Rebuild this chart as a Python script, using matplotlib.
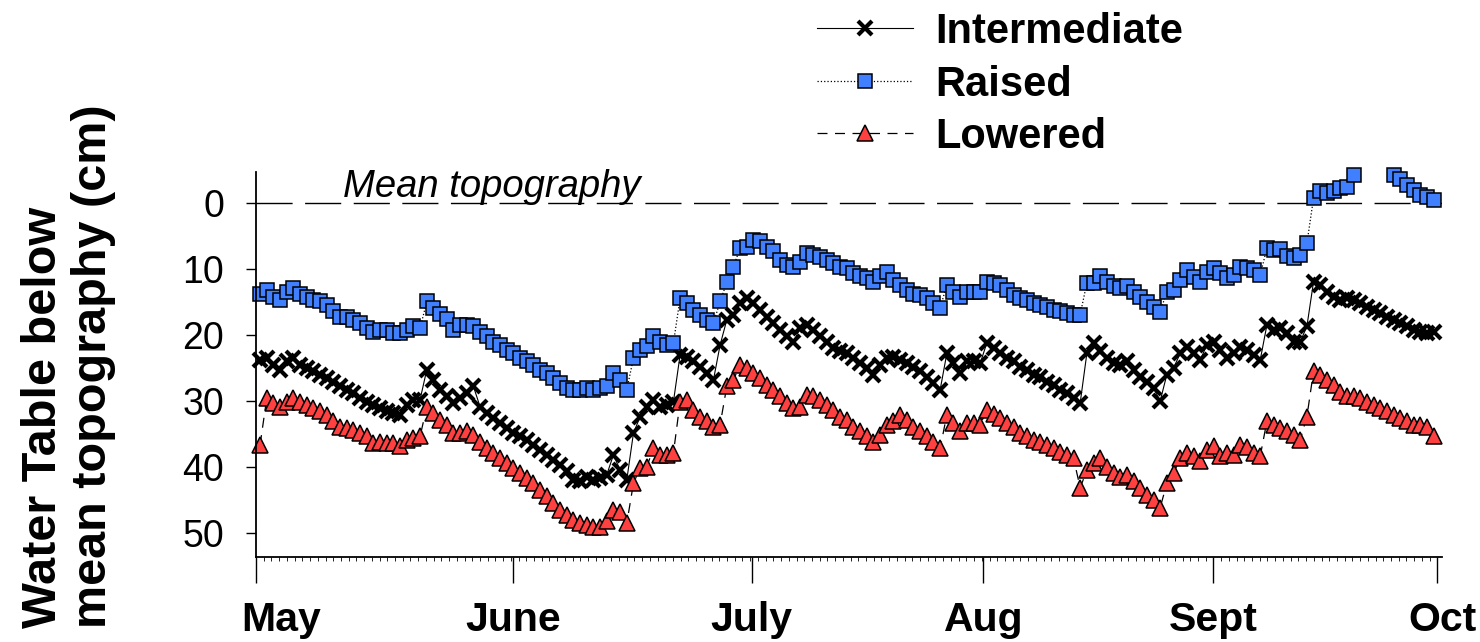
import matplotlib
matplotlib.use("Agg")
import matplotlib.pyplot as plt
import matplotlib.transforms as mtransforms
import numpy as np

plt.rcParams['font.family'] = ['Liberation Sans', 'DejaVu Sans']

nan = np.nan

# water table below mean topography (cm), one reading per sample
intermediate = [
    23.8, 23.5, 24.5, 25.3, 24.0, 23.5, 24.5, 25.0, 25.5, 26.0,
    26.6, 27.1, 27.8, 28.3, 28.8, 29.6, 30.1, 30.6, 31.1, 31.6,
    31.9, 32.1, 30.6, 29.8, 29.8, 25.3, 26.8, 28.3, 29.3, 30.3,
    29.6, 28.8, 27.8, 30.9, 31.9, 32.6, 33.4, 34.1, 34.9, 35.4,
    35.9, 36.7, 37.4, 38.2, 38.9, 39.7, 40.7, 42.0, 42.2, 41.5,
    42.0, 41.7, 41.2, 38.2, 40.5, 42.0, 34.9, 32.4, 30.9, 29.8,
    30.9, 30.6, 30.1, 23.0, 23.3, 24.0, 24.8, 25.8, 26.8, 21.5,
    17.7, 16.9, 15.2, 14.4, 15.2, 16.2, 17.2, 18.2, 19.2, 20.2,
    21.0, 19.0, 18.5, 19.2, 20.2, 21.0, 22.0, 22.5, 22.8, 23.5,
    24.3, 25.0, 26.0, 24.5, 23.5, 23.3, 23.8, 24.3, 24.8, 25.5,
    26.3, 27.3, 28.3, 22.8, 24.3, 25.8, 24.0, 24.0, 24.3, 21.2,
    22.0, 22.8, 23.5, 24.0, 24.8, 25.3, 26.0, 26.4, 27.1, 27.6,
    28.3, 28.8, 29.6, 30.3, 22.8, 21.2, 22.5, 23.5, 24.3, 24.5,
    24.0, 25.3, 26.3, 27.1, 28.1, 30.0, 26.0, 25.0, 22.8, 21.8,
    22.8, 23.8, 21.5, 21.0, 22.3, 23.5, 22.8, 21.8, 22.3, 23.0,
    23.8, 18.5, 19.2, 19.0, 19.7, 21.0, 21.0, 18.7, 11.9, 12.4,
    13.4, 14.2, 14.7, 14.4, 14.7, 15.2, 15.7, 16.2, 16.7, 17.2,
    17.7, 18.2, 18.7, 19.2, 19.5, 19.7, 19.5,
]

raised = [
    13.7, 13.2, 14.2, 14.7, 13.4, 12.9, 13.7, 14.2, 14.7, 14.9,
    15.4, 16.4, 17.2, 17.2, 17.7, 18.2, 19.0, 19.5, 19.2, 19.2,
    19.7, 19.7, 19.2, 18.7, 19.0, 14.9, 15.9, 16.8, 17.6, 19.2,
    18.5, 18.5, 18.7, 19.5, 20.2, 21.0, 21.5, 22.3, 22.8, 23.5,
    24.0, 24.5, 25.3, 25.8, 26.6, 27.3, 28.0, 28.3, 28.3, 28.1,
    28.3, 28.1, 27.8, 25.8, 26.8, 28.3, 23.5, 22.3, 21.7, 20.2,
    21.0, 21.5, 21.2, 14.4, 15.2, 16.2, 16.9, 17.7, 18.2, 14.9,
    12.0, 9.6, 6.8, 6.6, 5.6, 5.8, 6.6, 7.3, 8.6, 9.4,
    9.6, 8.9, 7.6, 7.8, 8.1, 8.6, 9.1, 9.6, 9.9, 10.6,
    11.1, 11.4, 11.9, 11.1, 10.4, 11.6, 12.4, 13.2, 13.7, 13.9,
    14.4, 15.2, 15.9, 12.4, 13.4, 14.2, 13.4, 13.4, 13.4, 11.9,
    12.1, 12.4, 13.2, 13.9, 14.4, 14.7, 15.2, 15.4, 15.7, 16.2,
    16.4, 16.7, 16.9, 16.9, 12.1, 12.1, 11.1, 11.9, 12.6, 12.9,
    12.6, 13.4, 14.2, 15.0, 15.8, 16.5, 13.4, 13.2, 11.6, 10.1,
    11.2, 11.9, 10.4, 9.9, 10.6, 11.4, 10.9, 9.6, 9.9, 10.1,
    10.9, 6.8, 7.1, 6.9, 8.0, 8.3, 7.8, 6.1, -0.8, -1.8,
    -1.5, -1.8, -2.3, -2.5, -4.3, nan, nan, nan, nan, nan,
    -4.3, -3.7, -2.8, -2.0, -1.3, -0.9, -0.5,
]

lowered = [
    36.7, 29.6, 30.3, 30.9, 30.1, 29.6, 30.1, 30.6, 31.1, 31.6,
    32.1, 33.1, 33.9, 34.1, 34.4, 34.9, 35.4, 36.4, 36.2, 36.4,
    36.4, 36.9, 35.9, 35.7, 35.4, 30.9, 31.9, 32.9, 33.6, 34.9,
    34.9, 34.6, 35.2, 36.2, 37.2, 37.9, 38.7, 39.5, 40.2, 41.0,
    41.7, 42.5, 43.5, 44.5, 45.5, 46.5, 47.3, 48.1, 48.6, 48.8,
    49.1, 49.1, 48.3, 46.5, 46.8, 48.6, 42.5, 40.2, 40.0, 37.2,
    38.2, 38.2, 37.9, 30.1, 29.8, 31.4, 32.4, 33.1, 33.9, 33.6,
    27.8, 26.8, 24.5, 25.0, 25.8, 26.6, 27.6, 28.3, 29.3, 30.3,
    31.1, 30.9, 29.1, 29.3, 29.8, 30.6, 31.4, 32.4, 32.9, 33.9,
    34.6, 35.4, 36.2, 35.2, 33.6, 33.1, 32.1, 32.9, 33.9, 34.6,
    35.4, 36.2, 37.2, 32.1, 33.4, 34.6, 33.4, 33.4, 33.6, 31.4,
    32.0, 32.6, 33.4, 34.0, 34.8, 35.4, 35.9, 36.2, 36.7, 37.2,
    37.7, 38.2, 38.7, 43.2, 40.5, 39.5, 38.7, 40.0, 41.0, 41.5,
    41.2, 42.2, 43.2, 44.3, 45.0, 46.2, 42.5, 41.0, 38.7, 37.9,
    38.4, 39.2, 37.4, 36.9, 38.4, 37.9, 38.2, 36.7, 37.0, 37.9,
    38.4, 33.1, 33.6, 34.1, 34.6, 35.2, 35.9, 32.4, 25.5, 26.0,
    26.8, 27.6, 28.6, 29.3, 29.3, 29.6, 30.1, 30.6, 31.1, 31.6,
    32.1, 32.6, 33.1, 33.6, 33.6, 34.0, 35.4,
]

months = ['May', 'June', 'July', 'Aug', 'Sept', 'Oct']
month_pos = [0, 33.3, 64.2, 94.2, 124.0, 153.0]  # days after 1 May
y_ticks = [0, 10, 20, 30, 40, 50]

# readings are evenly spaced through the season
days = 0.52 + 0.8636 * np.arange(len(intermediate))

fig = plt.figure(figsize=(14.8, 6.42), dpi=100)
ax = fig.add_axes([0.173, 0.1324, 0.8013, 0.5997])

# mean topography reference line
ax.axhline(0, color='black', lw=1.0, ls=(0, (26, 9)), zorder=1)
ax.text(11.3, -1.0, 'Mean topography', fontstyle='italic', fontsize=27.5,
        ha='left', va='baseline')

ax.plot(days, intermediate, color='black', lw=0.8, marker='x', ms=10,
        mew=3.0, mec='black', label='Intermediate', clip_on=False)
ax.plot(days, raised, color='black', lw=0.9, ls=':', marker='s', ms=10.5,
        mfc='#4080FF', mec='black', mew=1.1, label='Raised', clip_on=False)
ax.plot(days, lowered, color='black', lw=0.9, ls=(0, (8, 6)), marker='^',
        ms=11.5, mfc='#FF4040', mec='black', mew=1.1, label='Lowered',
        clip_on=False)

ax.set_xlim(0, 153.6)
ax.set_ylim(53.7, -4.75)

for side in ('top', 'right'):
    ax.spines[side].set_visible(False)
ax.spines['left'].set_linewidth(1.3)
ax.spines['bottom'].set_linewidth(1.3)

ax.set_yticks(y_ticks)
ax.tick_params(axis='y', length=7, width=1, pad=16, labelsize=27)

ax.set_xticks(month_pos)
ax.set_xticklabels(months, fontweight='bold', fontsize=29.5)
ax.set_xticks(np.arange(0, 154, 1), minor=True)
ax.tick_params(axis='x', which='major', length=19, width=1, pad=13)
ax.tick_params(axis='x', which='minor', length=3, width=0.6)

# first and last month names sit a little right of their ticks
shifts = {0: 0.25, 5: 0.05}
for i, lab in enumerate(ax.get_xticklabels()):
    if i in shifts:
        lab.set_transform(lab.get_transform() +
                          mtransforms.ScaledTranslation(shifts[i], 0, fig.dpi_scale_trans))

fig.text(0.014, 0.022, 'Water Table below\nmean topography (cm)', rotation=90,
         ha='left', va='bottom', multialignment='left', fontsize=35,
         fontweight='bold', linespacing=1.15)

ax.legend(loc='upper left', bbox_to_anchor=(817 / 1480, 1 - 12 / 642),
          bbox_transform=fig.transFigure, frameon=False,
          prop={'weight': 'bold', 'size': 30}, handlelength=2.3,
          handletextpad=0.55, labelspacing=0.3, borderpad=0,
          borderaxespad=0, numpoints=1)

fig.savefig('out.png', dpi=100)
